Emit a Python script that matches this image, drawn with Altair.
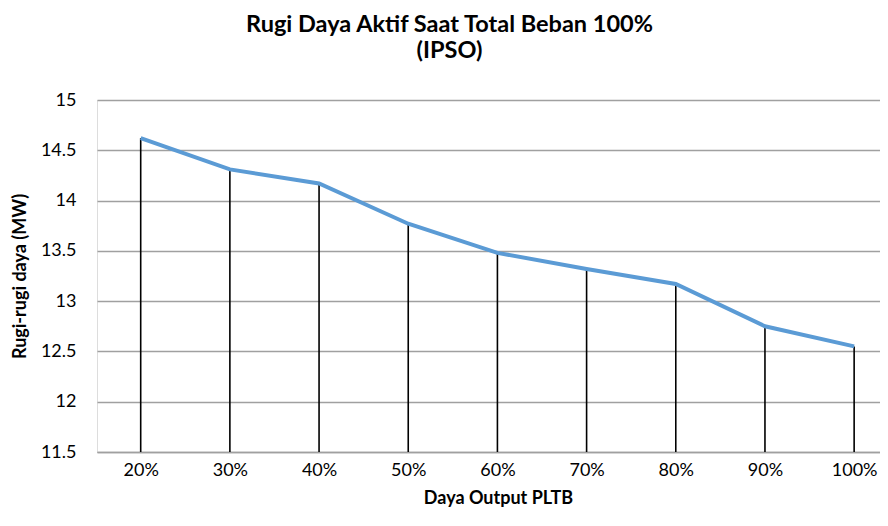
import altair as alt
import pandas as pd

output_pct = [20, 30, 40, 50, 60, 70, 80, 90, 100]
rugi_mw = [14.62, 14.31, 14.17, 13.77, 13.48, 13.32, 13.17, 12.75, 12.55]
y_ticks = [11.5, 12, 12.5, 13, 13.5, 14, 14.5, 15]
y_base = 11.5

df = pd.DataFrame({"pct": output_pct, "rugi": rugi_mw, "base": [y_base] * len(output_pct)})

FONT = "Lato"
GRID = "#a0a0a0"

x_enc = alt.X(
    "pct:Q",
    scale=alt.Scale(domain=[15.1, 102.9], nice=False, zero=False),
    axis=alt.Axis(
        values=output_pct,
        labelExpr="datum.value + '%'",
        grid=False,
        ticks=False,
        domain=True,
        domainColor=GRID,
        domainWidth=1.5,
        labelFont=FONT,
        labelFontSize=18,
        labelColor="#000000",
        labelPadding=9,
        title="Daya Output PLTB",
        titleFont=FONT,
        titleFontSize=18,
        titleFontWeight="bold",
        titleColor="#000000",
        titlePadding=10,
        titleX=401,
    ),
)

y_scale = alt.Scale(domain=[11.5, 15], nice=False, zero=False)

rules = alt.Chart(df).mark_rule(color="#000000", strokeWidth=1.6).encode(
    x=x_enc,
    y=alt.Y(
        "rugi:Q",
        scale=y_scale,
        axis=alt.Axis(
            values=y_ticks,
            format="~g",
            grid=True,
            gridColor=GRID,
            gridWidth=1.5,
            ticks=False,
            domain=False,
            labelFont=FONT,
            labelFontSize=18,
            labelColor="#000000",
            labelPadding=21,
            title="Rugi-rugi daya (MW)",
            titleFont=FONT,
            titleFontSize=18,
            titleFontWeight="bold",
            titleColor="#000000",
            titlePadding=11,
        ),
    ),
    y2="base:Q",
)

line = alt.Chart(df).mark_line(color="#5b9bd5", strokeWidth=4).encode(
    x="pct:Q",
    y="rugi:Q",
)

chart = (
    alt.layer(rules, line)
    .properties(
        width=783,
        height=352,
        title=alt.TitleParams(
            text=["Rugi Daya Aktif Saat Total Beban 100%", "(IPSO)"],
            font=FONT,
            fontSize=23.5,
            fontWeight="bold",
            color="#000000",
            anchor="middle",
            dx=-39,
            offset=29,
            lineHeight=26,
        ),
        padding={"left": 89, "top": 92, "right": 0, "bottom": 60},
        autosize=alt.AutoSizeParams(type="none"),
    )
    .configure_view(stroke=None)
    .configure(background="#ffffff")
)

chart.save("out.html", embed_options={"renderer": "svg", "actions": False})
